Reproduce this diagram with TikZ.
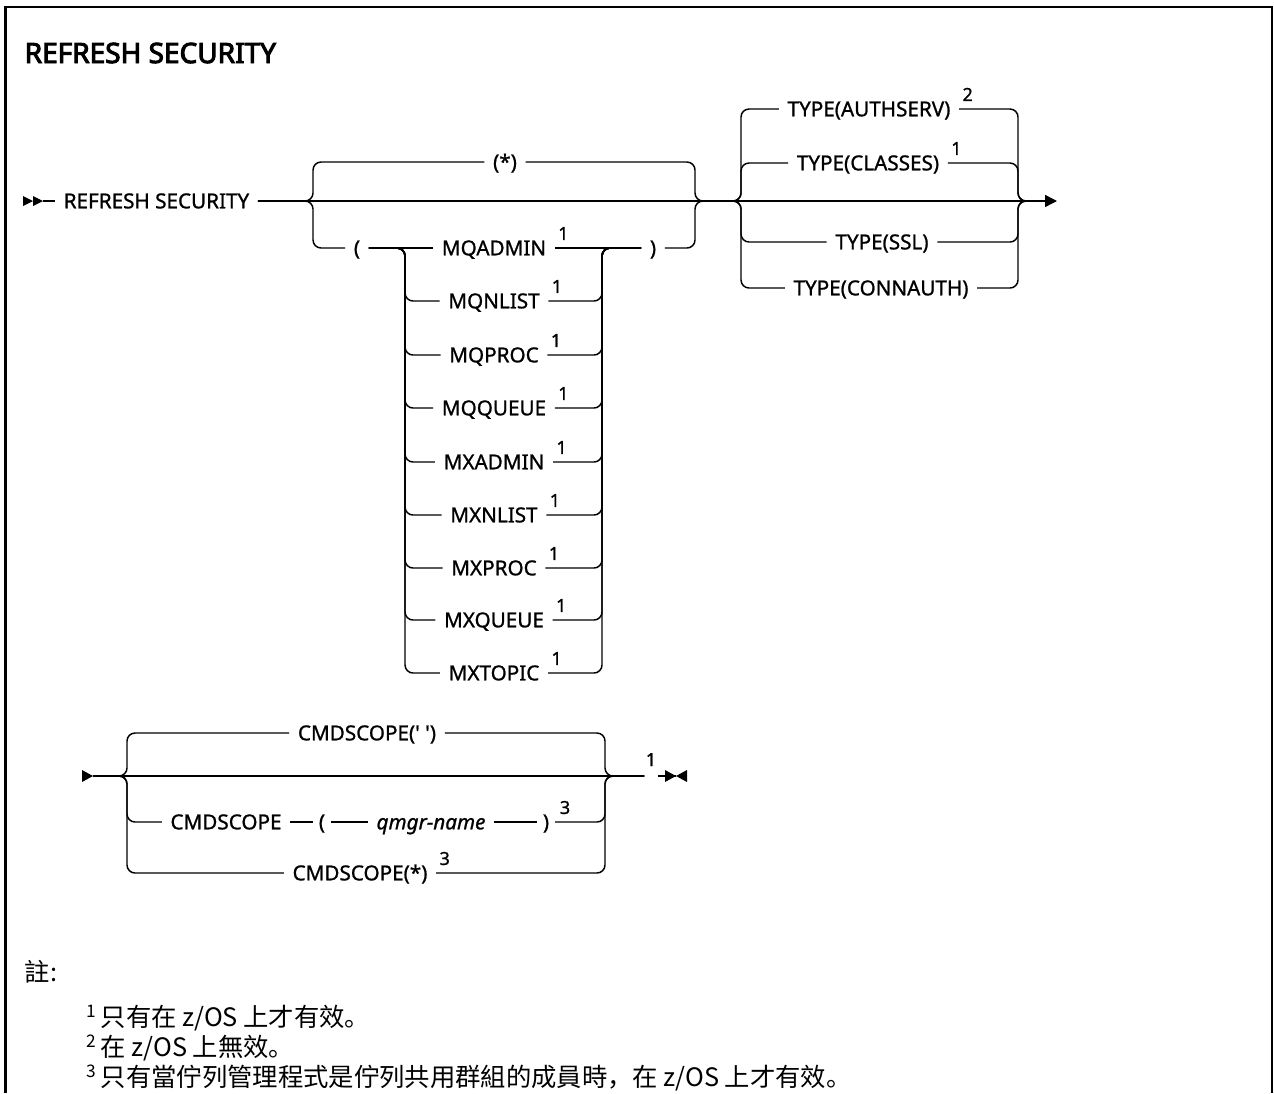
\documentclass[tikz,border=0pt]{standalone}
\usepackage{fontspec}
\setmainfont{Noto Sans}
\newfontfamily\kwfont{Noto Sans}[FakeBold=1.0]
\newfontfamily\titlefont{Noto Sans}[FakeBold=3.5]
\newfontfamily\cjk{Noto Sans CJK SC}
\usetikzlibrary{arrows.meta}
\begin{document}
\begin{tikzpicture}[x=0.75pt,y=-0.75pt,line width=1.1pt,
 kw/.style={font=\kwfont\fontsize{15.5}{18}\selectfont,inner xsep=6pt,inner ysep=0pt,text height=11pt,text depth=0pt},
 sup/.style={font=\kwfont\fontsize{13.5}{15}\selectfont,inner sep=0pt,anchor=base west},
 rc/.style={rounded corners=6pt},
 tip/.style={fill=black,draw=none},
 note/.style={font=\cjk\fontsize{19}{23}\selectfont,inner sep=0pt,anchor=base west},
 nsup/.style={font=\cjk\fontsize{13}{15}\selectfont,inner sep=0pt,anchor=base west},
 frame/.style={line width=1.8pt}]

\useasboundingbox (0,0) rectangle (1274,1093);
\draw[frame] (5.5,1093) -- (5.5,7) -- (1272,7) -- (1272,1093);

\node[font=\titlefont\fontsize{21}{24}\selectfont,inner sep=0pt,anchor=west] (title) at (24,53) {REFRESH SECURITY};

% ---------- diagram 1 ----------
\coordinate (s1) at (43,201);
\fill[tip] (23,196) -- (33,201) -- (23,206) -- cycle;
\fill[tip] (33,196) -- (43,201) -- (33,206) -- cycle;
\node[kw,anchor=west] (cmd) at (55,201) {REFRESH SECURITY};
\coordinate (endA) at (1057,201);
\coordinate (j1) at (718,201);
\coordinate (j2) at (1035,201);
\draw (s1) -- (cmd.west);
\draw[-{Triangle[length=9pt,width=9pt]}] (cmd.east) -- (endA);

% stack 1
\node[kw] (star) at (505,162) {(*)};
\node[kw] (lp) at (357,248) {(};
\node[kw] (rp) at (653,248) {)};
\draw[rc] (cmd.east) -| (313,162) -- (star.west);
\draw[rc] (star.east) -| (695,201) -- (j1);
\draw[rc] (cmd.east) -| (313,248) -- (lp.west);
\draw[rc] (rp.east) -| (695,201) -- (j1);

\coordinate (lx) at (405,248);
\coordinate (rx) at (602,248);
\foreach \n/\lbl/\yy in {a/MQADMIN/248, b/MQNLIST/301, c/MQPROC/355, d/MQQUEUE/408, e/MXADMIN/462, f/MXNLIST/515, g/MXPROC/568, h/MXQUEUE/620, i/MXTOPIC/673} {
  \node[kw] (q\n) at (494,\yy) {\lbl};
  \node[sup] (qs\n) at ([xshift=2pt]q\n.north east) {1};
}
\draw (lp.east) -- (qa.west);
\draw (qa.east) -- (rp.west);
\foreach \n in {b,c,d,e,f,g,h,i} {
  \draw[rc] (lp.east) -| (lx |- q\n.west) -- (q\n.west);
  \draw[rc] (q\n.east) -| (rx) -- (rp.west);
}

% stack 2
\coordinate (l2) at (741,201);
\coordinate (r2) at (1018,201);
\node[kw] (ta) at (869,109) {TYPE(AUTHSERV)};
\node[sup] (tas) at ([xshift=2pt]ta.north east) {2};
\node[kw] (tc) at (868,163) {TYPE(CLASSES)};
\node[sup] (tcs) at ([xshift=2pt]tc.north east) {1};
\node[kw] (ts) at (882,242) {TYPE(SSL)};
\node[kw] (tn) at (881,288) {TYPE(CONNAUTH)};
\foreach \n in {ta,tc,ts,tn} {
  \draw[rc] (j1) -| (l2 |- \n.west) -- (\n.west);
  \draw[rc] (\n.east) -| (r2) -- (j2);
}

% ---------- diagram 2 ----------
\coordinate (s2) at (93,776);
\fill[tip] (82,770) -- (93,776) -- (82,782) -- cycle;
\coordinate (l3) at (127,776);
\coordinate (r3) at (605,776);
\node[kw] (c1) at (367,733) {CMDSCOPE(\textquotesingle\ \textquotesingle)};
\node[kw] (c2) at (226,822) {CMDSCOPE};
\node[kw,inner xsep=4pt] (c2l) at (322,822) {(};
\node[kw,font=\kwfont\itshape\fontsize{15.5}{18}\selectfont] (c2q) at (431,822) {qmgr-name};
\node[kw,inner xsep=4pt] (c2r) at (546,822) {)};
\node[sup] (c2s) at ([xshift=3pt]c2r.north east) {3};
\node[kw] (c3) at (360,873) {CMDSCOPE(*)};
\node[sup] (c3s) at ([xshift=2pt]c3.north east) {3};
\node[inner sep=0pt,minimum width=9pt,minimum height=1pt] (fn) at (651,776) {};
\node[sup,anchor=base] (fns) at (651,766) {1};

\draw (s2) -- (fn.west);
\draw[rc] (s2) -| (l3 |- c1.west) -- (c1.west);
\draw[rc] (s2) -| (l3 |- c2.west) -- (c2.west);
\draw[rc] (s2) -| (l3 |- c3.west) -- (c3.west);
\draw (c2.east) -- (c2l.west);
\draw (c2l.east) -- (c2q.west);
\draw (c2q.east) -- (c2r.west);
\draw[rc] (c1.east) -| (r3) -- (fn.west);
\draw[rc] (c2r.east) -| (r3) -- (fn.west);
\draw[rc] (c3.east) -| (r3) -- (fn.west);
\coordinate (em) at (676,776);
\draw (fn.east) -- (em);
\fill[tip] (665,770) -- (676,776) -- (665,782) -- cycle;
\fill[tip] (687,770) -- (676,776) -- (687,782) -- cycle;

% ---------- notes ----------
\node[note,anchor=west] (nh) at (24,972) {註:};
\node[nsup] (n1s) at (86,1017) {1};
\node[note] (n1) at (100,1026) {只有在 z/OS 上才有效。};
\node[nsup] (n2s) at (86,1047) {2};
\node[note] (n2) at (100,1056) {在 z/OS 上無效。};
\node[nsup] (n3s) at (86,1077) {3};
\node[note] (n3) at (100,1086) {只有當佇列管理程式是佇列共用群組的成員時，在 z/OS 上才有效。};
\end{tikzpicture}
\end{document}
